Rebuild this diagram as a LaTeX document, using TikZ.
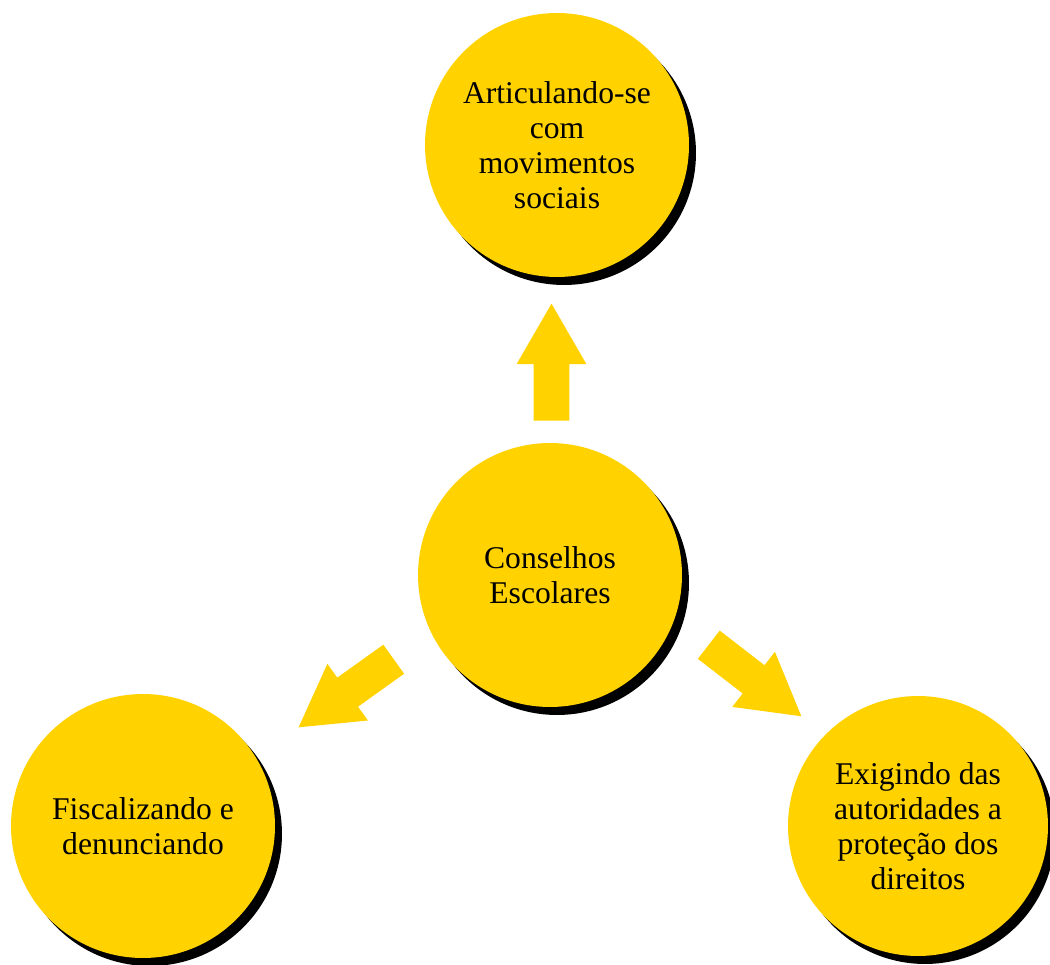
\documentclass[tikz,border=0pt]{standalone}
\usepackage{fontspec}
\setmainfont{Liberation Serif}
\usetikzlibrary{shapes.arrows,shadows}
\definecolor{conselho}{HTML}{FFD200}

\begin{document}
\begin{tikzpicture}[x=0.02cm,y=0.02cm,
	bola/.style={circle,fill=conselho,minimum size=5.28cm,inner sep=0pt,align=center,
		font=\fontsize{18}{19.9}\selectfont,
		drop shadow={shadow xshift=0.14cm,shadow yshift=-0.16cm,fill=black,opacity=1}},
	seta/.style={single arrow,fill=conselho,inner xsep=0pt,inner ysep=0.35cm,
		single arrow head extend=0.34cm,single arrow tip angle=60,
		minimum height=2.34cm,anchor=tail}]
	\useasboundingbox (0,0) rectangle (1050,964);
	\node[bola] (centro) at (550,389) {Conselhos\\Escolares};
	\node[bola] (topo) at (557,819) {Articulando-se\\com\\movimentos\\sociais};
	\node[bola] (esq) at (143,138) {Fiscalizando e\\denunciando};
	\node[bola,minimum size=5.2cm] (dir) at (918,138) {Exigindo das\\autoridades a\\proteção dos\\direitos};
	\node[seta,rotate=90] (setacima) at (551.5,543) {};
	\node[seta,rotate=215.6] (setaesq) at (394,305) {};
	\node[seta,rotate=-37.7] (setadir) at (708.5,319.5) {};
\end{tikzpicture}
\end{document}
